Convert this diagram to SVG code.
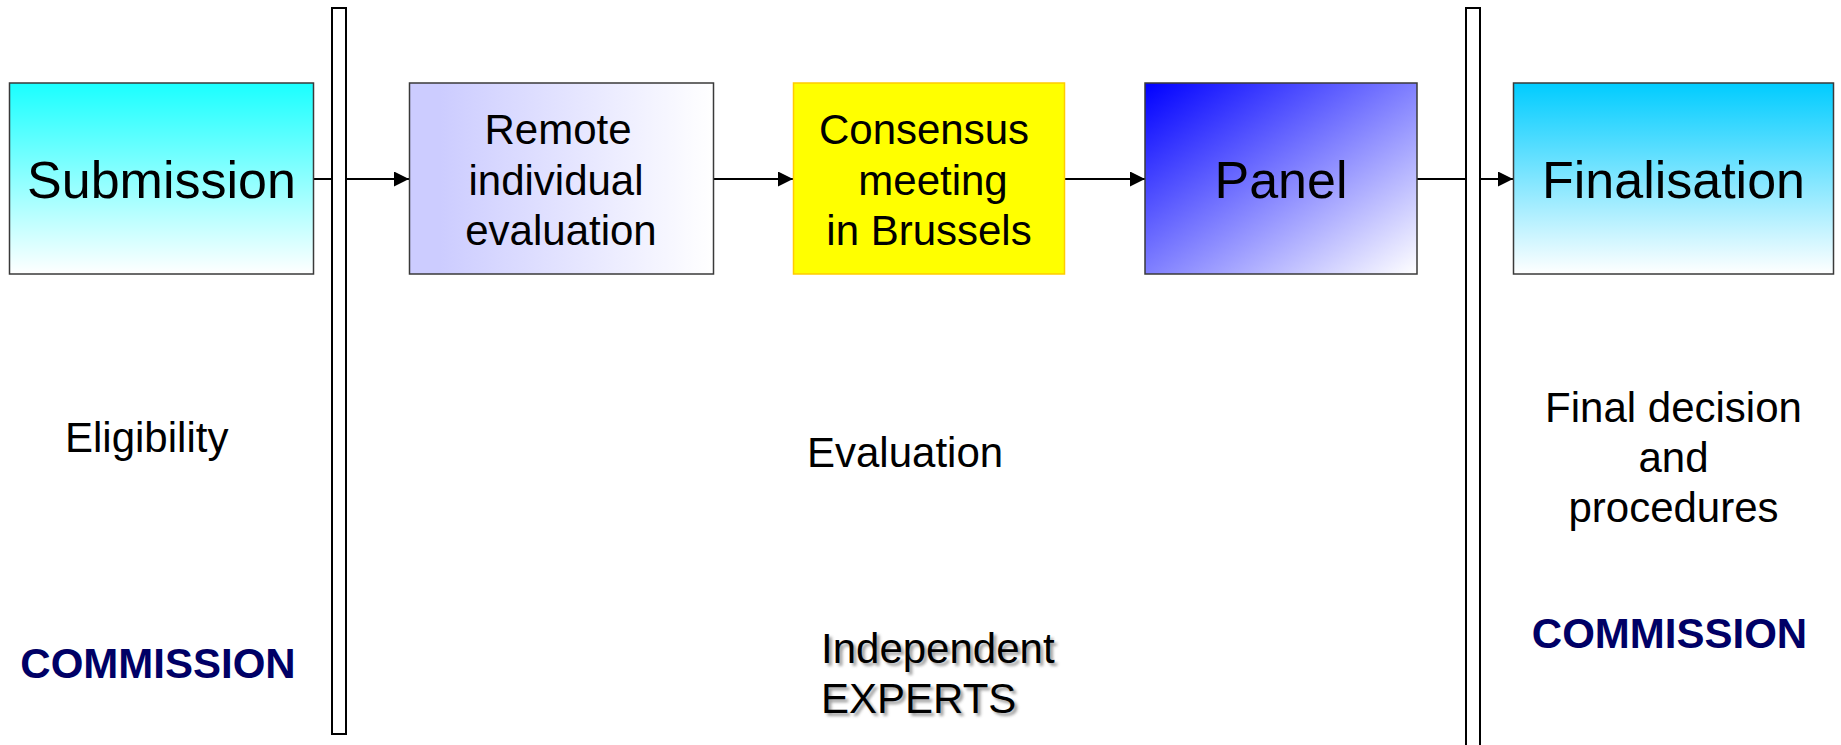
<svg xmlns="http://www.w3.org/2000/svg" width="1841" height="745" viewBox="0 0 1841 745">
<style>
  .box { stroke: #3a3a3a; stroke-width: 1.5; }
  .big { font-family: "Liberation Sans", Arial, sans-serif; font-size: 52px; fill: #000; text-anchor: middle; }
  .mid { font-family: "Liberation Sans", Arial, sans-serif; font-size: 42px; fill: #000; text-anchor: middle; }
  .lbl { font-family: "Liberation Sans", Arial, sans-serif; font-size: 42px; fill: #000; }
  .com { font-family: "Liberation Sans", Arial, sans-serif; font-size: 42px; font-weight: bold; fill: #000066; text-anchor: middle; }
  .conn { stroke: #000; stroke-width: 2; fill: none; marker-end: url(#arr); }
  .bar { fill: #fff; stroke: #000; stroke-width: 2; }
</style>
<defs>
  <marker id="arr" markerWidth="16" markerHeight="16" refX="15" refY="7.5" orient="auto" markerUnits="userSpaceOnUse">
    <path d="M0,0 L15,7.5 L0,15 Z" fill="#000"/>
  </marker>
  <linearGradient id="gSub" x1="0" y1="0" x2="0" y2="1">
    <stop offset="0" stop-color="#1affff"/>
    <stop offset="1" stop-color="#ffffff"/>
  </linearGradient>
  <linearGradient id="gRem" x1="0" y1="0" x2="1" y2="0">
    <stop offset="0.1" stop-color="#ccccff"/>
    <stop offset="1" stop-color="#ffffff"/>
  </linearGradient>
  <linearGradient id="gPan" x1="0" y1="0" x2="1" y2="1">
    <stop offset="0" stop-color="#0000ff"/>
    <stop offset="1" stop-color="#ffffff"/>
  </linearGradient>
  <linearGradient id="gFin" x1="0" y1="0" x2="0" y2="1">
    <stop offset="0" stop-color="#00ccff"/>
    <stop offset="1" stop-color="#ffffff"/>
  </linearGradient>
  <filter id="shadow" x="-10%" y="-20%" width="120%" height="140%">
    <feGaussianBlur stdDeviation="1.5"/>
  </filter>
</defs>
<rect width="1841" height="745" fill="#fff"/>

<g id="connectors">
  <line class="conn" x1="313" y1="179" x2="409" y2="179"/>
  <line class="conn" x1="714" y1="179" x2="793" y2="179"/>
  <line class="conn" x1="1065" y1="179" x2="1145" y2="179"/>
  <line class="conn" x1="1417" y1="179" x2="1513" y2="179"/>
</g>

<g id="separators">
  <rect class="bar" x="332" y="8" width="14" height="726"/>
  <rect class="bar" x="1466" y="8" width="14" height="745"/>
</g>

<g id="submission">
  <rect class="box" x="9.5" y="83" width="304" height="191" fill="url(#gSub)"/>
  <text class="big" x="161.5" y="198">Submission</text>
</g>

<g id="remote">
  <rect class="box" x="409.5" y="83" width="304" height="191" fill="url(#gRem)"/>
  <text class="mid" x="558" y="144">Remote</text>
  <text class="mid" x="556" y="195">individual</text>
  <text class="mid" x="561" y="245">evaluation</text>
</g>

<g id="consensus">
  <rect x="793.5" y="83" width="271" height="191" fill="#ffff00" stroke="#ffcc00" stroke-width="1.5"/>
  <text class="mid" x="924" y="144">Consensus</text>
  <text class="mid" x="933" y="195">meeting</text>
  <text class="mid" x="929" y="245">in Brussels</text>
</g>

<g id="panel">
  <rect class="box" x="1145" y="83" width="272" height="191" fill="url(#gPan)"/>
  <text class="big" x="1281" y="198">Panel</text>
</g>

<g id="finalisation">
  <rect class="box" x="1513.5" y="83" width="320" height="191" fill="url(#gFin)"/>
  <text class="big" x="1673.5" y="198">Finalisation</text>
</g>

<g id="eligibility">
  <text class="lbl" x="65" y="452">Eligibility</text>
  <text class="com" x="158" y="678">COMMISSION</text>
</g>

<g id="evaluation">
  <text class="lbl" x="807" y="467">Evaluation</text>
  <g fill="#888" filter="url(#shadow)" opacity="0.8">
    <text class="lbl" x="824" y="666" style="fill:#888">Independent</text>
    <text class="lbl" x="824" y="716" style="fill:#888">EXPERTS</text>
  </g>
  <text class="lbl" x="821" y="663">Independent</text>
  <text class="lbl" x="821" y="713">EXPERTS</text>
</g>

<g id="final-decision">
  <text class="mid" x="1673.5" y="422">Final decision</text>
  <text class="mid" x="1673.5" y="472">and</text>
  <text class="mid" x="1673.5" y="522">procedures</text>
  <text class="com" x="1669.5" y="648">COMMISSION</text>
</g>
</svg>
